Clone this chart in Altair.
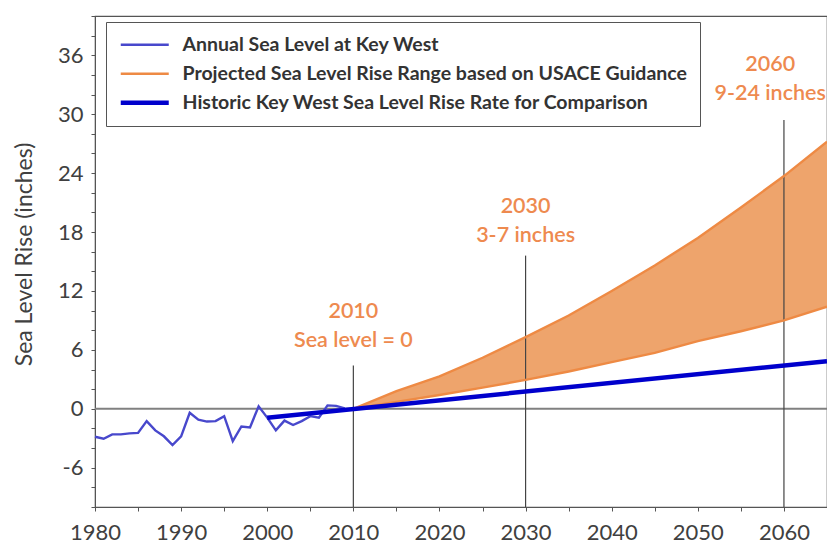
import altair as alt
import pandas as pd

# ---------------- data ----------------
annual_years = list(range(1980, 2010))
annual_values = [-2.85, -3.05, -2.6, -2.6, -2.5, -2.45, -1.25, -2.2, -2.8, -3.7,
                 -2.8, -0.4, -1.1, -1.3, -1.25, -0.75, -3.3, -1.8, -1.9, 0.25,
                 -0.9, -2.2, -1.2, -1.65, -1.25, -0.75, -0.9, 0.35, 0.3, 0.05]

proj_years = [2010, 2015, 2020, 2025, 2030, 2035, 2040, 2045, 2050, 2055, 2060, 2065]
proj_low = [0, 0.7, 1.4, 2.15, 2.95, 3.8, 4.75, 5.7, 6.9, 7.9, 9.0, 10.4]
proj_high = [0, 1.8, 3.3, 5.2, 7.3, 9.5, 12.0, 14.6, 17.4, 20.5, 23.7, 27.2]

historic_years = [2000, 2065]
historic_values = [-0.9, 4.85]

marker_years = [2010, 2030, 2060]
marker_tops = [4.4, 15.6, 29.4]

note_x = [2010, 2010, 2030, 2030, 2058.4, 2058.4]
note_y = [9.9, 6.9, 20.5, 17.6, 35.0, 32.1]
note_text = ["2010", "Sea level = 0", "2030", "3-7 inches", "2060", "9-24 inches"]

S1 = "Annual Sea Level at Key West"
S2 = "Projected Sea Level Rise Range based on USACE Guidance"
S3 = "Historic Key West Sea Level Rise Rate for Comparison"
series_names = [S1, S2, S3]
series_colors = ["#4848CC", "#EE8A44", "#0000CC"]

# ---------------- tables ----------------
rows = []
for yr, v in zip(annual_years, annual_values):
    rows.append({"series": S1, "part": "a", "year": yr, "value": v})
for yr, v in zip(proj_years, proj_low):
    rows.append({"series": S2, "part": "low", "year": yr, "value": v})
for yr, v in zip(proj_years, proj_high):
    rows.append({"series": S2, "part": "high", "year": yr, "value": v})
thin_df = pd.DataFrame(rows)
hist_df = pd.DataFrame({"series": [S3] * len(historic_years), "part": "h",
                        "year": historic_years, "value": historic_values})

band_df = pd.DataFrame({"year": proj_years, "low": proj_low, "high": proj_high})
marker_df = pd.DataFrame({"year": marker_years, "top": marker_tops,
                          "bottom": [-10] * len(marker_years)})
note_df = pd.DataFrame({"year": note_x, "value": note_y, "text": note_text})
zero_df = pd.DataFrame({"value": [0]})

FONT = "Lato"
AX = "#404040"

x_scale = alt.Scale(domain=[1980, 2065], nice=False, zero=False)
y_scale = alt.Scale(domain=[-10, 40], nice=False, zero=False)

x_axis = alt.Axis(
    values=list(range(1980, 2066, 5)),
    labelExpr="datum.value % 10 == 0 ? datum.label : ''",
    format="d", title=None, grid=False, labelOverlap=False, labelFlush=False,
    labelFont=FONT, labelFontSize=22, labelColor=AX,
    tickSize=4, tickColor="#555", domainColor="#555", labelPadding=11,
)
y_axis = alt.Axis(
    values=list(range(-10, 41, 2)),
    labelExpr="datum.value % 6 == 0 ? '' + datum.value : ''",
    title="Sea Level Rise (inches)", grid=False, labelOverlap=False, labelFlush=False,
    labelFont=FONT, labelFontSize=22, labelColor=AX,
    titleFont=FONT, titleFontSize=23, titleFontWeight="normal", titleColor=AX,
    titleX=-71, titleY=238, titleBaseline="middle", titleAngle=270,
    tickSize=4, tickColor="#555", domainColor="#555", labelPadding=8,
)

X = lambda f: alt.X(f, scale=x_scale, axis=x_axis)
Y = lambda f: alt.Y(f, scale=y_scale, axis=y_axis)

band = alt.Chart(band_df).mark_area(color="#EEA46C", opacity=1).encode(
    x=X("year:Q"), y=Y("low:Q"), y2="high:Q",
)

zero = alt.Chart(zero_df).mark_rule(color="#808080", strokeWidth=2).encode(
    y=Y("value:Q")
)

markers = alt.Chart(marker_df).mark_rule(color="#444444", strokeWidth=1.2).encode(
    x=X("year:Q"), y=Y("bottom:Q"), y2="top:Q",
)

legend = alt.Legend(
    title=None, orient="none", legendX=11, legendY=6,
    symbolType="M-1,0H5", symbolSize=256,
    symbolStrokeWidth=alt.ExprRef("datum.value == '" + S3 + "' ? 4.5 : 2.4"),
    labelFont=FONT, labelFontSize=19.5, labelFontWeight="bold",
    labelColor="#333333", labelLimit=700, labelOffset=44,
    padding=13, strokeColor="#555555", fillColor="white",
    rowPadding=8,
)

color_enc = alt.Color(
    "series:N",
    scale=alt.Scale(domain=series_names, range=series_colors),
    legend=legend,
)

thin_lines = alt.Chart(thin_df).mark_line(strokeWidth=2.4).encode(
    x=X("year:Q"), y=Y("value:Q"), color=color_enc,
    detail="part:N", order="year:Q",
)

hist_line = alt.Chart(hist_df).mark_line(strokeWidth=4.5).encode(
    x=X("year:Q"), y=Y("value:Q"), color=color_enc,
    detail="part:N", order="year:Q",
)

notes = alt.Chart(note_df).mark_text(
    font=FONT, fontSize=21.5, fontWeight=600, color="#EE8A4F",
    align="center", baseline="middle",
).encode(
    x=X("year:Q"), y=Y("value:Q"), text="text:N",
)

chart = alt.layer(band, zero, markers, thin_lines, hist_line, notes).properties(
    width=732, height=491,
    autosize=alt.AutoSizeParams(type="none"),
    padding={"left": 87, "top": 8, "right": 0, "bottom": 42},
    background="white",
).configure_view(stroke="#555555", strokeWidth=1.2).configure_axis(
    labelOverlap=False, grid=False
)

chart.save("out.html", embed_options={"renderer": "svg", "actions": False})
